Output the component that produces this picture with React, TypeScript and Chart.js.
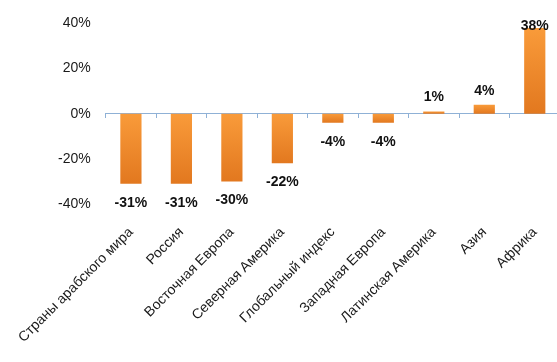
import React, { useEffect, useRef } from "react";
import { Chart, registerables } from "chart.js";

Chart.register(...registerables);

const categories: string[] = [
  "Страны арабского мира",
  "Россия",
  "Восточная Европа",
  "Северная Америка",
  "Глобальный индекс",
  "Западная Европа",
  "Латинская Америка",
  "Азия",
  "Африка",
];
const values: number[] = [-31, -31, -30, -22, -4, -4, 1, 4, 38];
const yTicks: number[] = [-40, -20, 0, 20, 40];

const FONT = "'Liberation Sans', Arial, sans-serif";

const valueLabels = {
  id: "valueLabels",
  afterDatasetsDraw(chart: any) {
    const ctx = chart.ctx;
    const meta = chart.getDatasetMeta(0);
    const area = chart.chartArea;
    ctx.save();
    ctx.font = `bold 14px ${FONT}`;
    ctx.fillStyle = "#111";
    ctx.textAlign = "center";
    ctx.textBaseline = "alphabetic";
    meta.data.forEach((bar: any, i: number) => {
      const v = values[i];
      let y: number;
      if (v >= 0) {
        y = Math.max(bar.y - 10, area.top + 7);
      } else {
        y = bar.y + 23;
      }
      ctx.fillText(`${v}%`, bar.x, y);
    });
    ctx.restore();
  },
};

export default function App() {
  const ref = useRef<HTMLCanvasElement | null>(null);
  useEffect(() => {
    document.body.style.margin = "0";
    document.body.style.overflow = "hidden";
    const canvas = ref.current!;
    const chart = new Chart(canvas, {
      type: "bar",
      data: {
        labels: categories,
        datasets: [
          {
            data: values,
            backgroundColor: (c: any) => {
              const ch = c.chart;
              const ys = ch.scales && ch.scales.y;
              if (!ys || c.dataIndex === undefined) return "#F08A28";
              const v = values[c.dataIndex];
              const a = ys.getPixelForValue(Math.max(v, 0));
              const b = ys.getPixelForValue(Math.min(v, 0));
              if (!isFinite(a) || !isFinite(b) || a === b) return "#F08A28";
              const g = ch.ctx.createLinearGradient(0, a, 0, b);
              g.addColorStop(0, "#F99B3A");
              g.addColorStop(1, "#E2781F");
              return g;
            },
            borderWidth: 0,
            barPercentage: 0.42,
            categoryPercentage: 1,
          },
        ],
      },
      options: {
        responsive: false,
        animation: false,
        layout: { padding: { left: 43, top: 23, right: 0, bottom: 0 } },
        plugins: {
          legend: { display: false },
          tooltip: { enabled: false },
        },
        scales: {
          x: {
            grid: { display: false, drawTicks: false },
            border: { display: false },
            afterFit: (s: any) => {
              s.paddingLeft = 0;
              s.paddingRight = 0;
              s.height = 158;
            },
            ticks: {
              autoSkip: false,
              minRotation: 45,
              maxRotation: 45,
              padding: 20,
              color: "#1a1a1a",
              font: { family: FONT, size: 14 },
            },
          },
          x2: {
            type: "category",
            position: { y: 0 },
            offset: true,
            grid: {
              offset: true,
              drawOnChartArea: false,
              drawTicks: true,
              tickLength: 4,
              color: "#8FB1D6",
            },
            border: { display: true, color: "#8FB1D6", width: 1 },
            ticks: { display: false },
          },
          y: {
            min: -40,
            max: 40,
            afterBuildTicks: (s: any) => {
              s.ticks = yTicks.map((v) => ({ value: v }));
            },
            grid: { display: false, drawTicks: false },
            border: { display: false },
            ticks: {
              padding: 15,
              color: "#1a1a1a",
              font: { family: FONT, size: 14 },
              callback: (v: any) => `${v}%`,
            },
          },
        },
      },
      plugins: [valueLabels],
    } as any);
    return () => chart.destroy();
  }, []);
  return (
    <div style={{ width: 557, height: 362, overflow: "hidden", background: "#fff" }}>
      <canvas ref={ref} width={560} height={362} style={{ display: "block" }} />
    </div>
  );
}
